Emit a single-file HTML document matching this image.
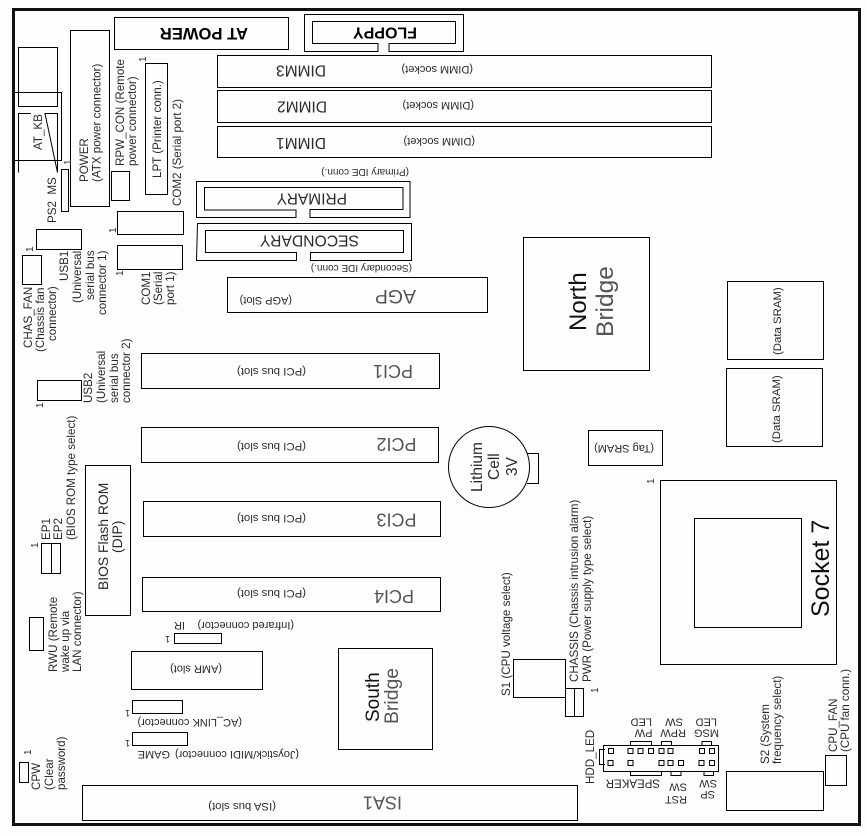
<!DOCTYPE html>
<html><head><meta charset="utf-8"><style>
html,body{margin:0;padding:0;background:#fdfefc}
svg{display:block}
rect,path,circle{fill:none;stroke:#000;stroke-width:1}
text{font-family:"Liberation Sans",sans-serif;font-size:11.6px;fill:#2a2a2a}
.s{font-size:11px}.t{font-size:10px}.o{font-size:9px}
.b{font-weight:bold;fill:#000}
.m{font-size:15.7px}.l{font-size:18px}
.g{fill:#555}
</style></head><body>
<svg width="867" height="836" viewBox="0 0 867 836" xmlns="http://www.w3.org/2000/svg">
<rect x="0" y="0" width="867" height="836" style="fill:#fdfefc;stroke:none"/>
<rect x="13.5" y="9.5" width="846" height="815" style="stroke-width:3;stroke:#111"/>
<!-- top connectors -->
<rect x="114.5" y="17.5" width="174" height="32"/>
<path d="M378 51.5H304.5V14.5H463.5V51.5H389V43.5H455.5V21.5H312.5V43.5H378Z"/>
<rect x="217.5" y="55.5" width="494" height="32"/>
<rect x="217.5" y="90.5" width="494" height="32"/>
<rect x="217.5" y="126.5" width="494" height="31"/>
<path d="M296 217.5H196.5V181.5H410V217.5H310V209.5H403V187.5H204.5V210H296Z"/>
<path d="M296.5 260.5H196.5L197.5 223.5H411.5V260.5H310.5V252.5H403.5V230.5H205.5V252.5H296.5Z"/>
<rect x="227.5" y="277.5" width="260" height="35"/>
<!-- left cluster -->
<rect x="70.5" y="30.5" width="39" height="176"/>
<rect x="18.5" y="47.5" width="39" height="59"/>
<path d="M18.5 172.5V113.5H31M45 113.5H57.5V172.5Z"/>
<path d="M14 92.5H61.5V160.5H14"/>
<rect x="61.5" y="169.5" width="7" height="42"/>
<rect x="111.5" y="171.5" width="18" height="29"/>
<rect x="145.5" y="63.5" width="22" height="131"/>
<rect x="117.5" y="211.5" width="66" height="23"/>
<rect x="117.5" y="245.5" width="65" height="24"/>
<rect x="36.5" y="229.5" width="45" height="20"/>
<rect x="22.5" y="255.5" width="19" height="29"/>
<rect x="37.5" y="380.5" width="44" height="20"/>
<rect x="41.5" y="543.5" width="19" height="30"/>
<path d="M51.5 543.5V573.5"/>
<rect x="85.5" y="465.5" width="45" height="150"/>
<rect x="29.5" y="617.5" width="14" height="33"/>
<rect x="19.5" y="762.5" width="9" height="20"/>
<!-- slots -->
<rect x="141.5" y="353.5" width="298" height="35"/>
<rect x="141.5" y="427.5" width="297" height="35"/>
<rect x="143.5" y="501.5" width="297" height="35"/>
<rect x="142.5" y="577.5" width="298" height="34"/>
<rect x="174.5" y="633.5" width="47" height="10"/>
<rect x="131.5" y="651.5" width="131" height="38"/>
<rect x="132.5" y="700.5" width="50" height="13"/>
<rect x="132.5" y="732.5" width="55" height="13"/>
<rect x="82.5" y="785.5" width="495" height="35"/>
<rect x="338.5" y="648.5" width="94" height="101"/>
<!-- right chips -->
<rect x="523.5" y="237.5" width="126" height="133"/>
<rect x="727.5" y="281.5" width="96" height="78"/>
<rect x="726.5" y="368.5" width="96" height="78"/>
<rect x="588.5" y="430.5" width="74" height="35"/>
<rect x="660.5" y="480.5" width="176" height="184"/>
<rect x="694.5" y="518.5" width="107" height="109"/>
<circle cx="489" cy="467" r="40.5"/>
<path d="M527 453.5H538.5V483.5H527"/>
<rect x="513.5" y="659.5" width="52" height="38"/>
<rect x="565.5" y="688.5" width="18" height="28"/>
<path d="M574.5 688.5V716"/>
<rect x="726.5" y="771.5" width="97" height="39"/>
<rect x="825.5" y="755.5" width="21" height="30"/>
<!-- front panel -->
<rect x="603.5" y="745.5" width="115" height="26"/>
<g>
<rect x="608.5" y="748.5" width="5" height="5"/><rect x="628" y="748.5" width="5" height="5"/><rect x="638" y="748.5" width="5" height="5"/><rect x="648.5" y="748.5" width="5" height="5"/><rect x="659" y="748.5" width="5" height="5"/><rect x="668" y="748.5" width="5" height="5"/><rect x="699.5" y="748.5" width="5" height="5"/><rect x="709.5" y="748.5" width="5" height="5"/>
<rect x="608" y="760.5" width="5" height="5"/><rect x="628" y="760.5" width="5" height="5"/><rect x="659" y="760.5" width="5" height="5"/><rect x="668" y="760.5" width="5" height="5"/><rect x="678.5" y="760.5" width="5" height="5"/><rect x="699" y="760.5" width="5" height="5"/><rect x="709.5" y="760.5" width="5" height="5"/>
</g>
<path d="M605 749.5H599.5V764.5H605M630.5 745V741.5H651.5V745M661.5 745V741.5H671.5V745M702 745V741.5H711.5V745M630.5 772V775.5H661.5V772M671 772V775.5H681V772M704 772V775.5H713.5V772"/>

<!-- upside-down text -->
<text class="b" style="font-size:16.6px" transform="translate(248,28) rotate(180)">AT POWER</text>
<text class="b" style="font-size:16px" transform="translate(417,27.5) rotate(180)">FLOPPY</text>
<text style="font-size:15.5px" transform="translate(326,65.5) rotate(180)">DIMM3</text>
<text style="font-size:15.5px" transform="translate(327,101.5) rotate(180)">DIMM2</text>
<text style="font-size:15.5px" transform="translate(326,138) rotate(180)">DIMM1</text>
<text class="s" transform="translate(473,66) rotate(180)">(DIMM socket)</text>
<text class="s" transform="translate(474,102) rotate(180)">(DIMM socket)</text>
<text class="s" transform="translate(475,138) rotate(180)">(DIMM socket)</text>
<text class="t" transform="translate(409,169) rotate(180)">(Primary IDE conn.)</text>
<text style="font-size:15.5px" transform="translate(347,193.5) rotate(180)">PRIMARY</text>
<text class="m" transform="translate(359,235.5) rotate(180)">SECONDARY</text>
<text class="t" transform="translate(412,265) rotate(180)">(Secondary IDE conn.)</text>
<text class="g" style="font-size:19.5px" transform="translate(416,290) rotate(180)">AGP</text>
<text class="s" transform="translate(292,297) rotate(180)">(AGP Slot)</text>
<text class="l g" transform="translate(413,365) rotate(180)">PCI1</text>
<text class="l g" transform="translate(416.5,438) rotate(180)">PCI2</text>
<text class="l g" transform="translate(416.5,513.5) rotate(180)">PCI3</text>
<text class="l g" transform="translate(414,590) rotate(180)">PCI4</text>
<text class="s" style="font-size:11.4px" transform="translate(306,368) rotate(180)">(PCI bus slot)</text>
<text class="s" style="font-size:11.4px" transform="translate(306,443) rotate(180)">(PCI bus slot)</text>
<text class="s" style="font-size:11.4px" transform="translate(306,515) rotate(180)">(PCI bus slot)</text>
<text class="s" style="font-size:11.4px" transform="translate(306,590) rotate(180)">(PCI bus slot)</text>
<text class="s" transform="translate(294,622) rotate(180)">(Infrared connector)</text>
<text class="s" transform="translate(185,622) rotate(180)">IR</text>
<text class="o" transform="translate(170,636) rotate(180)">1</text>
<text class="s" transform="translate(222,665.5) rotate(180)">(AMR slot)</text>
<text class="o" transform="translate(130,710) rotate(180)">1</text>
<text class="s" transform="translate(242,719) rotate(180)">(AC_LINK connector)</text>
<text class="o" transform="translate(130,740) rotate(180)">1</text>
<text class="s" transform="translate(299,751) rotate(180)">(Joystick/MIDI connector)</text>
<text class="s" transform="translate(170,751) rotate(180)">GAME</text>
<text class="s" style="font-size:11.4px" transform="translate(276,803) rotate(180)">(ISA bus slot)</text>
<text class="l g" transform="translate(402,796.5) rotate(180)">ISA1</text>
<text class="s" transform="translate(654,445) rotate(180)">(Tag SRAM)</text>
<text class="s" transform="translate(652.5,729.5) rotate(180)">PW</text>
<text class="s" transform="translate(652,718.5) rotate(180)">LED</text>
<text class="s" transform="translate(686,729.5) rotate(180)">RPW</text>
<text class="s" transform="translate(683,718.5) rotate(180)">SW</text>
<text class="s" transform="translate(719,729.5) rotate(180)">MSG</text>
<text class="s" transform="translate(717,718.5) rotate(180)">LED</text>
<text style="font-size:11.5px" transform="translate(660,779.5) rotate(180)">SPEAKER</text>
<text class="s" transform="translate(687,796) rotate(180)">RST</text>
<text class="s" transform="translate(687,783.5) rotate(180)">SW</text>
<text class="s" transform="translate(715,791) rotate(180)">SP</text>
<text class="s" transform="translate(717,780) rotate(180)">SW</text>

<!-- rotated text -->
<text transform="translate(88,182) rotate(-90)">POWER</text>
<text transform="translate(100.5,182) rotate(-90)">(ATX power connector)</text>
<text transform="translate(42,150) rotate(-90)">AT_KB</text>
<text transform="translate(56,223) rotate(-90)">PS2&#160;&#160;MS</text>
<text class="t" transform="translate(71,165) rotate(-90)">1</text>
<text transform="translate(124,166) rotate(-90)">RPW_CON (Remote</text>
<text transform="translate(136,166) rotate(-90)">power connector)</text>
<text class="t" transform="translate(146,62) rotate(-90)">1</text>
<text transform="translate(161,178) rotate(-90)">LPT (Printer conn.)</text>
<text transform="translate(181,206) rotate(-90)">COM2 (Serial port 2)</text>
<text class="t" transform="translate(116,233) rotate(-90)">1</text>
<text class="t" transform="translate(123,276) rotate(-90)">1</text>
<text transform="translate(68,281) rotate(-90)">USB1</text>
<text transform="translate(81,303) rotate(-90)">(Universal</text>
<text transform="translate(94,300) rotate(-90)">serial bus</text>
<text transform="translate(106,315) rotate(-90)">connector 1)</text>
<text class="t" transform="translate(33,252) rotate(-90)">1</text>
<text transform="translate(32,348) rotate(-90)">CHAS_FAN</text>
<text transform="translate(44,352) rotate(-90)">(Chassis fan</text>
<text transform="translate(56,341) rotate(-90)">connector)</text>
<text transform="translate(150,305) rotate(-90)">COM1</text>
<text transform="translate(162,305) rotate(-90)">(Serial</text>
<text transform="translate(174,305) rotate(-90)">port 1)</text>
<text transform="translate(92,403) rotate(-90)">USB2</text>
<text transform="translate(105,403) rotate(-90)">(Universal</text>
<text transform="translate(118,403) rotate(-90)">serial bus</text>
<text transform="translate(130,403) rotate(-90)">connector 2)</text>
<text class="t" transform="translate(43,408) rotate(-90)">1</text>
<text transform="translate(75,540) rotate(-90)">(BIOS ROM type select)</text>
<text transform="translate(62,540) rotate(-90)">EP2</text>
<text transform="translate(50,540) rotate(-90)">EP1</text>
<text class="t" transform="translate(38,548) rotate(-90)">1</text>
<text style="font-size:13.9px" transform="translate(108,590) rotate(-90)">BIOS Flash ROM</text>
<text style="font-size:13.9px" transform="translate(122,553) rotate(-90)">(DIP)</text>
<text transform="translate(57,672) rotate(-90)">RWU (Remote</text>
<text transform="translate(69,672) rotate(-90)">wake up via</text>
<text transform="translate(81,672) rotate(-90)">LAN connector)</text>
<text transform="translate(40,790) rotate(-90)">CPW</text>
<text transform="translate(53,790) rotate(-90)">(Clear</text>
<text transform="translate(65,790) rotate(-90)">password)</text>
<text class="t" transform="translate(31,755) rotate(-90)">1</text>
<text style="font-size:24px;fill:#111" transform="translate(586,331) rotate(-90)">North</text>
<text class="g" style="font-size:24.5px" transform="translate(613,337) rotate(-90)">Bridge</text>
<text style="font-size:19px;fill:#111" transform="translate(379,722) rotate(-90)">South</text>
<text class="g" style="font-size:19.4px" transform="translate(398,724) rotate(-90)">Bridge</text>
<text style="font-size:11.4px" transform="translate(781,355) rotate(-90)">(Data SRAM)</text>
<text style="font-size:11.4px" transform="translate(780,443) rotate(-90)">(Data SRAM)</text>
<text style="font-size:15.5px" transform="translate(482,492) rotate(-90)">Lithium</text>
<text style="font-size:15.5px" transform="translate(499,480) rotate(-90)">Cell</text>
<text style="font-size:15.5px" transform="translate(517,476) rotate(-90)">3V</text>
<text class="t" transform="translate(654,484) rotate(-90)">1</text>
<text style="font-size:25px;fill:#111" transform="translate(829,617) rotate(-90)">Socket 7</text>
<text transform="translate(510,696) rotate(-90)">S1 (CPU voltage select)</text>
<text transform="translate(578,682) rotate(-90)">CHASSIS (Chassis intrusion alarm)</text>
<text transform="translate(591,682) rotate(-90)">PWR (Power supply type select)</text>
<text class="t" transform="translate(598,693) rotate(-90)">1</text>
<text transform="translate(594,784) rotate(-90)">HDD_LED</text>
<text transform="translate(769,764) rotate(-90)">S2 (System</text>
<text transform="translate(781,764) rotate(-90)">frequency select)</text>
<text transform="translate(837,752) rotate(-90)">CPU_FAN</text>
<text transform="translate(849,752) rotate(-90)">(CPU fan conn.)</text>
</svg>
</body></html>
